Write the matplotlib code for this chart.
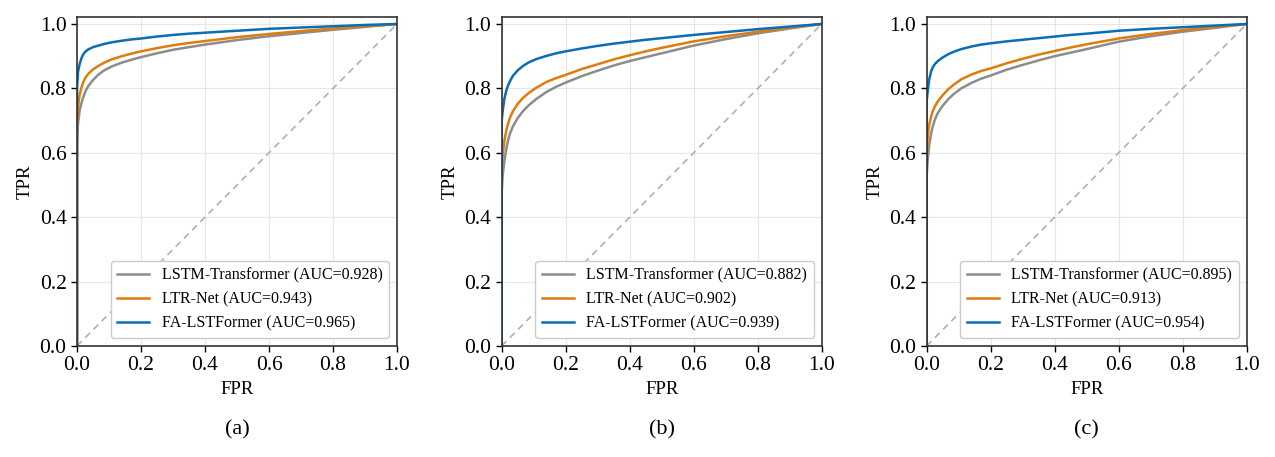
import numpy as np
import matplotlib
matplotlib.use("Agg")
import matplotlib.pyplot as plt

plt.rcParams['font.family'] = ['Liberation Serif', 'DejaVu Serif']

fpr = [0, 0, 0.003, 0.008, 0.014, 0.019, 0.026, 0.035, 0.05, 0.067, 0.085, 0.108, 0.14, 0.17,
       0.2, 0.25, 0.3, 0.35, 0.4, 0.45, 0.5, 0.6, 0.7, 0.8, 0.9, 1.0]

# panel (a)
tpr_a_lstm = [0, 0.62, 0.69, 0.73, 0.755, 0.771, 0.79, 0.807, 0.826, 0.843, 0.856, 0.868, 0.88, 0.889,
              0.897, 0.909, 0.92, 0.928, 0.936, 0.943, 0.950, 0.962, 0.972, 0.982, 0.991, 1.0]
tpr_a_ltr = [0, 0.68, 0.74, 0.78, 0.803, 0.818, 0.833, 0.845, 0.859, 0.87, 0.88, 0.89, 0.9, 0.908,
             0.915, 0.925, 0.934, 0.941, 0.947, 0.953, 0.959, 0.969, 0.978, 0.986, 0.993, 1.0]
tpr_a_fa = [0, 0.80, 0.85, 0.875, 0.894, 0.905, 0.914, 0.921, 0.928, 0.933, 0.938, 0.943, 0.948, 0.952,
            0.955, 0.961, 0.966, 0.970, 0.973, 0.976, 0.979, 0.985, 0.989, 0.993, 0.997, 1.0]

# panel (b)
tpr_b_lstm = [0, 0.48, 0.53, 0.573, 0.61, 0.635, 0.66, 0.682, 0.708, 0.73, 0.748, 0.767, 0.789, 0.805,
              0.818, 0.838, 0.855, 0.871, 0.885, 0.897, 0.909, 0.933, 0.953, 0.971, 0.986, 1.0]
tpr_b_ltr = [0, 0.55, 0.594, 0.635, 0.668, 0.688, 0.71, 0.729, 0.752, 0.771, 0.786, 0.802, 0.82, 0.832,
             0.842, 0.86, 0.875, 0.89, 0.903, 0.915, 0.926, 0.946, 0.962, 0.976, 0.989, 1.0]
tpr_b_fa = [0, 0.70, 0.73, 0.766, 0.792, 0.807, 0.823, 0.839, 0.856, 0.87, 0.881, 0.891, 0.901, 0.909,
            0.915, 0.924, 0.932, 0.939, 0.945, 0.951, 0.956, 0.966, 0.975, 0.984, 0.992, 1.0]

# panel (c)
tpr_c_lstm = [0, 0.53, 0.573, 0.625, 0.66, 0.682, 0.704, 0.724, 0.746, 0.766, 0.783, 0.80, 0.817, 0.83,
              0.84, 0.858, 0.873, 0.887, 0.9, 0.911, 0.922, 0.945, 0.962, 0.976, 0.988, 1.0]
tpr_c_ltr = [0, 0.60, 0.646, 0.688, 0.713, 0.729, 0.745, 0.76, 0.779, 0.797, 0.812, 0.828, 0.843, 0.854,
             0.862, 0.878, 0.892, 0.905, 0.916, 0.927, 0.937, 0.955, 0.969, 0.981, 0.991, 1.0]
tpr_c_fa = [0, 0.76, 0.79, 0.828, 0.853, 0.865, 0.876, 0.885, 0.896, 0.906, 0.914, 0.922, 0.93, 0.936,
            0.94, 0.946, 0.951, 0.956, 0.961, 0.966, 0.97, 0.979, 0.985, 0.99, 0.995, 1.0]

models = ["LSTM-Transformer", "LTR-Net", "FA-LSTFormer"]
auc_a = [0.928, 0.943, 0.965]
auc_b = [0.882, 0.902, 0.939]
auc_c = [0.895, 0.913, 0.954]
panel_labels = ["(a)", "(b)", "(c)"]
colors = ["#8c8c8c", "#e07b0c", "#0a6db5"]

panels = [
    ([tpr_a_lstm, tpr_a_ltr, tpr_a_fa], auc_a),
    ([tpr_b_lstm, tpr_b_ltr, tpr_b_fa], auc_b),
    ([tpr_c_lstm, tpr_c_ltr, tpr_c_fa], auc_c),
]

fig = plt.figure(figsize=(12.75, 4.57), dpi=100)
lefts = [0.0604, 0.3935, 0.7268]

for i, (curves, aucs) in enumerate(panels):
    ax = fig.add_axes([lefts[i], 0.243, 0.251, 0.72])
    ax.plot([0, 1], [0, 1], ls=(0, (4, 3)), color="#b0b0b0", lw=1.2)
    for tpr, name, auc, c in zip(curves, models, aucs, colors):
        ax.plot(fpr, tpr, color=c, lw=1.8, label=f"{name} (AUC={auc:.3f})")
    ax.set_xlim(0, 1)
    ax.set_ylim(0, 1.022)
    ax.set_xticks(np.arange(0, 1.01, 0.2))
    ax.set_yticks(np.arange(0, 1.01, 0.2))
    ax.grid(True, color="#e6e6e6", lw=0.8)
    ax.set_axisbelow(True)
    ax.tick_params(labelsize=15.5, direction="out", length=4, width=1)
    for s in ax.spines.values():
        s.set_linewidth(1.2)
        s.set_color("#333333")
    ax.set_xlabel("FPR", fontsize=13.5, labelpad=4)
    ax.set_ylabel("TPR", fontsize=13.5, labelpad=4)
    leg = ax.legend(loc="lower right", fontsize=11.5, frameon=True, fancybox=True,
                    edgecolor="#cccccc", framealpha=1, borderaxespad=0.5,
                    handlelength=2.0, handletextpad=0.8)
    ax.text(0.5, -0.255, panel_labels[i], transform=ax.transAxes,
            ha="center", va="center", fontsize=16)

fig.savefig("out.png", dpi=100)
